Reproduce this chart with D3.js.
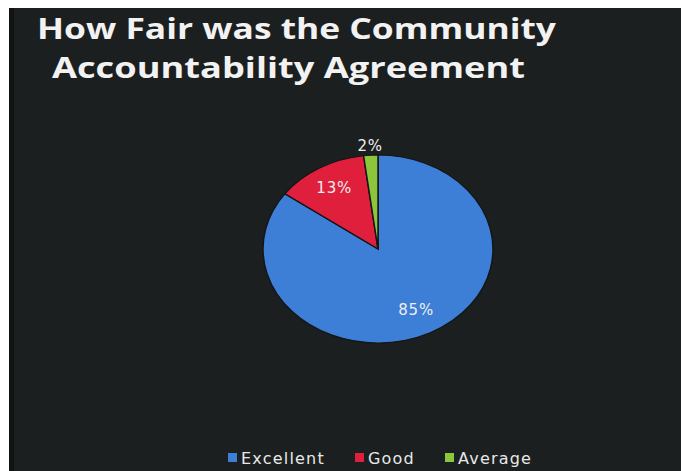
<!DOCTYPE html>
<html>
<head>
<meta charset="utf-8">
<script src="https://cdn.jsdelivr.net/npm/d3@7"></script>
<style>
  html, body { margin: 0; padding: 0; background: #fff; }
  svg { display: block; }
</style>
</head>
<body>
<svg id="chart" width="681" height="471"></svg>
<script>
var categories = ["Excellent", "Good", "Average"];
var values     = [85, 13, 2];
var labels     = ["85%", "13%", "2%"];
var colors     = ["#3d7ed6", "#df1f3c", "#8cc63c"];
var titleLines = ["How Fair was the Community", "Accountability Agreement"];

var svg = d3.select("#chart");

// slide background
svg.append("rect").attr("x", 9).attr("y", 8).attr("width", 672).attr("height", 463).attr("fill", "#1c1f1f");
svg.append("rect").attr("x", 9).attr("y", 8).attr("width", 5).attr("height", 463).attr("fill", "#111212");

// title, squeezed to the width it has on the slide
var title = svg.append("g").attr("font-family", "'Open Sans', Lato, sans-serif")
  .attr("font-weight", "bold").attr("fill", "#f2f2f2").attr("font-size", 29);
var titleX = [37, 52], titleY = [39, 78], titleW = [519, 473];
titleLines.forEach(function(t, i) {
  title.append("text").attr("x", titleX[i]).attr("y", titleY[i])
    .attr("textLength", titleW[i]).attr("lengthAdjust", "spacingAndGlyphs")
    .text(t);
});

// pie
var cx = 378, cy = 249, rx = 115, ry = 94;
var pie = d3.pie().sort(null).value(function(d) { return d; });
var arcs = pie(values);
var arc = d3.arc().innerRadius(0).outerRadius(rx);

var pg = svg.append("g").attr("transform", "translate(" + cx + "," + cy + ") scale(1," + (ry / rx) + ")");
pg.selectAll("path").data(arcs).enter().append("path")
  .attr("d", arc)
  .attr("fill", function(d, i) { return colors[i]; })
  .attr("stroke", "#141616").attr("stroke-width", 1.5);

var labelR = [84, 86, 126];
var lg = svg.append("g").attr("font-family", "'DejaVu Sans', sans-serif")
  .attr("font-size", 15).attr("fill", "#eeeeee").attr("text-anchor", "middle")
  .attr("letter-spacing", 0.8);
arcs.forEach(function(d, i) {
  var c = d3.arc().innerRadius(labelR[i]).outerRadius(labelR[i]).centroid(d);
  lg.append("text")
    .attr("x", cx + c[0])
    .attr("y", cy + c[1] * ry / rx + 5)
    .text(labels[i]);
});

// legend
var legX = [228, 355, 445];
var leg = svg.append("g").attr("font-family", "'DejaVu Sans', sans-serif")
  .attr("font-size", 16).attr("fill", "#e8e8e8");
categories.forEach(function(c, i) {
  leg.append("rect").attr("x", legX[i]).attr("y", 453).attr("width", 9).attr("height", 9)
    .attr("fill", colors[i]);
  leg.append("text").attr("x", legX[i] + 13).attr("y", 464)
    .attr("letter-spacing", 1.2).text(c);
});
</script>
</body>
</html>
